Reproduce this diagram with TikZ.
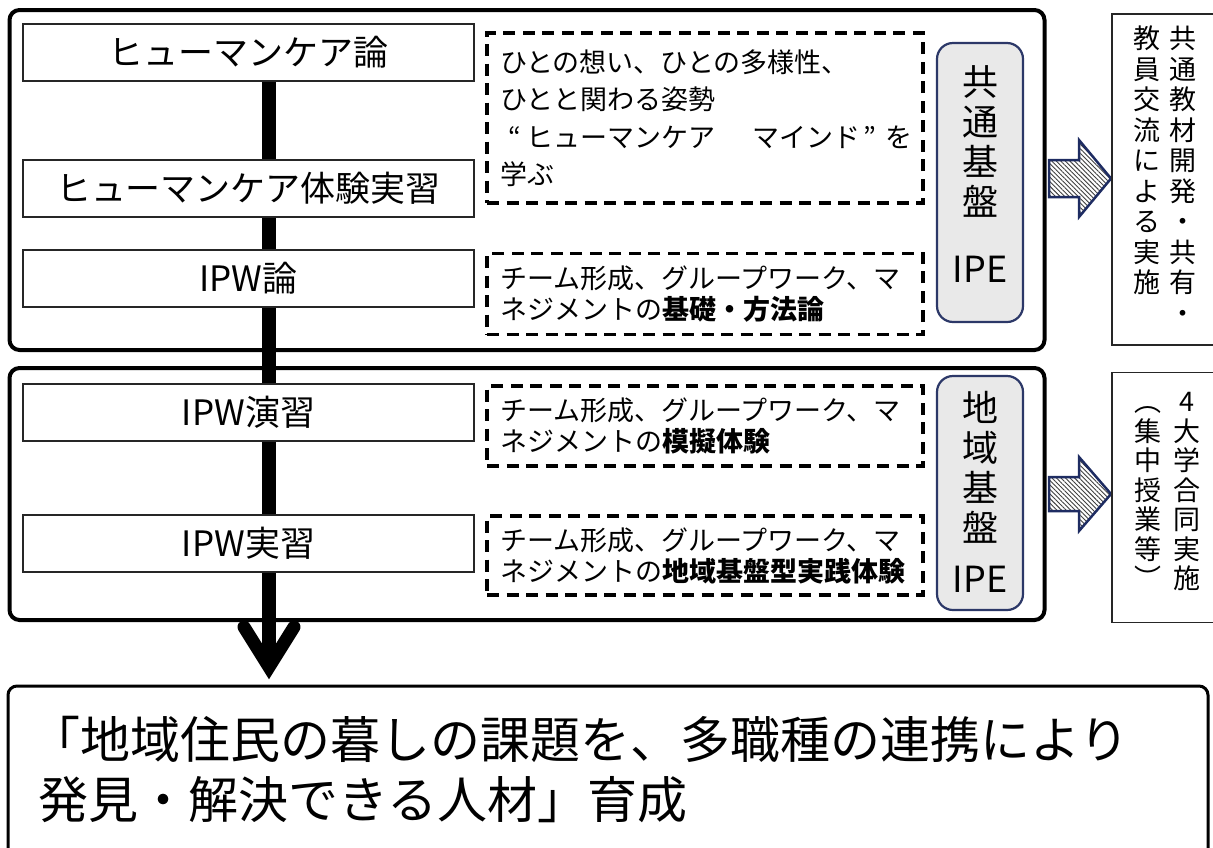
\documentclass[tikz,border=0pt]{standalone}
\usepackage{fontspec}
\setmainfont{Noto Sans CJK JP}
\usetikzlibrary{patterns.meta,backgrounds}
\definecolor{navyedge}{RGB}{44,56,104}
\definecolor{arrowedge}{RGB}{30,44,98}
\newcommand{\fsz}[2]{\fontsize{#1}{#2}\selectfont}
\begin{document}
\begin{tikzpicture}[x=1pt,y=-1pt,
  frame/.style={draw=black, line width=4pt, rounded corners=10pt, inner sep=0pt},
  goalbox/.style={draw=black, line width=3pt, rounded corners=9pt, fill=white, inner sep=0pt, minimum width=1200pt, minimum height=214pt},
  course/.style={draw=black!85, line width=1.3pt, fill=white, minimum width=451pt, minimum height=57pt, inner sep=0pt, font=\fsz{35}{40}},
  note/.style={draw=black, line width=3.3pt, dash pattern=on 12pt off 7.5pt, text width=410pt, inner xsep=13pt, inner ysep=0pt, align=left, font=\fsz{27}{31}},
  graybox/.style={draw=navyedge, line width=2.2pt, fill=gray!17, rounded corners=16pt, minimum width=86pt, inner sep=0pt},
  gtext/.style={font=\fsz{36}{40}, align=center, inner sep=0pt, anchor=north},
  side/.style={draw=black!85, line width=1.5pt, fill=white, minimum width=110pt, inner sep=0pt},
  vt/.style={font=\fsz{27}{30.5}, align=center, inner sep=0pt, anchor=north},
  stem/.style={line width=13.5pt},
  vhead/.style={line width=13pt, line join=miter, line cap=round},
  blockarrow/.style={preaction={fill=white}, pattern={Lines[angle=-45,distance=3.2pt,line width=0.9pt]}, pattern color=black!75, draw=arrowedge, line width=2.5pt, line join=miter}
]
\useasboundingbox (0,0) rectangle (1213,847);

% course boxes
\node[course] (h1) at (248.5,52.5) {ヒューマンケア論};
\node[course] (h2) at (248.5,188.5) {ヒューマンケア体験実習};
\node[course] (h3) at (248.5,278.5) {IPW論};
\node[course] (h4) at (248.5,412.5) {IPW演習};
\node[course] (h5) at (248.5,543.5) {IPW実習};

% frames and stem underneath
\coordinate (tip) at (269,667);
\begin{scope}[on background layer]
\node[frame, minimum width=1035pt, minimum height=340pt] (fa) at (527,180) {};
\node[frame, minimum width=1035pt, minimum height=252pt] (fb) at (527,494) {};
\draw[stem] (tip |- h1.south) -- (tip);
\end{scope}
\draw[vhead] ([shift={(-25,-40)}]tip) -- (tip) -- ([shift={(25,-40)}]tip);

% goal box
\node[goalbox] (goal) at (608,793) {};
\node[anchor=west, align=left, font=\fsz{50}{60}, inner sep=0pt] (goaltext) at (40,770)
  {\mbox{\kern-10pt「地域住民の暮しの課題を、多職種の連携により}\\\mbox{\kern-2pt 発見・解決できる人材」育成}};

% dashed notes
\node[note, minimum height=170pt, font=\fsz{27}{37.5}] (n1) at (705,118)
  {ひとの想い、ひとの多様性、\\ひとと関わる姿勢\\\mbox{\kern8pt “\kern6pt ヒューマンケア　\kern10pt マインド\kern3pt ”\kern9pt を}\\学ぶ};
\node[note, minimum height=81pt] (n2) at (705,294)
  {チーム形成、グループワーク、マ\\ネジメントの{\bfseries 基礎・方法論}};
\node[note, minimum height=80pt] (n3) at (705,426)
  {チーム形成、グループワーク、マ\\ネジメントの{\bfseries 模擬体験}};
\node[note, minimum height=79pt] (n4) at (705,555.5)
  {チーム形成、グループワーク、マ\\ネジメントの{\bfseries 地域基盤型実践体験}};

% gray IPE boxes
\node[graybox, minimum height=279pt] (g1) at (980,182.5) {};
\node[gtext] (g1t) at (980,65) {共\\通\\基\\盤\\[27pt]IPE};
\node[graybox, minimum height=234pt] (g2) at (980,493) {};
\node[gtext] (g2t) at (980,391) {地\\域\\基\\盤\\[11pt]IPE};

% block arrows
\draw[blockarrow, shift={(1049,178.5)}] (0,-18.5) -- (30,-18.5) -- (30,-38.5) -- (62,0) -- (30,38.5) -- (30,18.5) -- (0,18.5) -- cycle;
\draw[blockarrow, shift={(1049,494)}] (0,-17) -- (30,-17) -- (30,-37) -- (62,0) -- (30,37) -- (30,17) -- (0,17) -- cycle;

% side boxes
\node[side, minimum height=331pt] (s1) at (1167,179.5) {};
\node[vt] (s1a) at (1183,26) {\vphantom{共}共\\通\\教\\材\\開\\発\\・\\共\\有\\・};
\node[vt] (s1b) at (1147,26) {\vphantom{共}教\\員\\交\\流\\に\\よ\\る\\実\\施};
\node[side, minimum height=250pt] (s2) at (1167,497.5) {};
\node[vt, font=\fsz{27}{29.5}] (s2a) at (1187,389) {\vphantom{共}4\\大\\学\\合\\同\\実\\施};
\node[vt, font=\fsz{27}{29.5}] (s2b) at (1148,389) {\vphantom{共}︵\\集\\中\\授\\業\\等\\︶};
\end{tikzpicture}
\end{document}
